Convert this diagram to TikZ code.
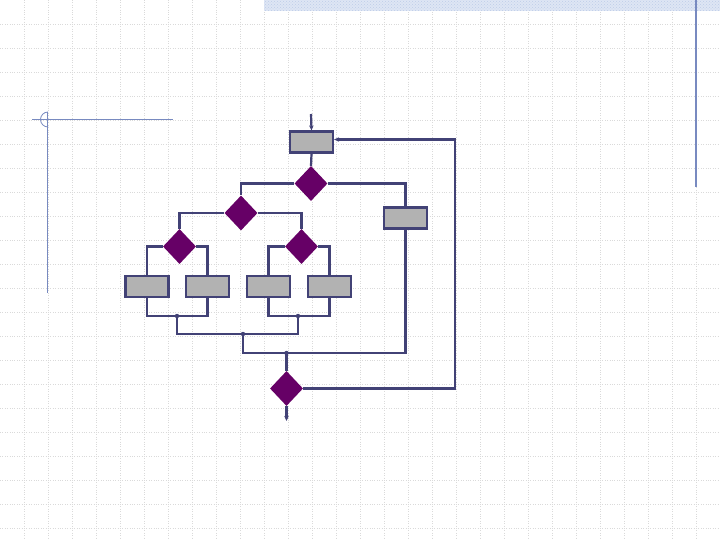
\documentclass[tikz,border=0pt]{standalone}
\usetikzlibrary{shapes.geometric}
\usetikzlibrary{arrows.meta}
\usetikzlibrary{patterns}
\definecolor{navy}{RGB}{66,66,118}
\definecolor{boxgrey}{RGB}{178,178,178}
\definecolor{purp}{RGB}{102,0,102}
\definecolor{gridgrey}{RGB}{218,218,218}
\definecolor{guide}{RGB}{120,138,192}
\definecolor{band}{RGB}{222,230,244}
\definecolor{bandhatch}{RGB}{190,204,232}
\tikzset{
	blk/.style={rectangle, minimum width=43pt, minimum height=21pt, inner sep=0pt, draw=navy, fill=boxgrey, line width=2.2pt},
	dec/.style={diamond, minimum width=33pt, minimum height=35pt, inner sep=0pt, fill=purp},
	con/.style={draw=navy, line width=2.2pt},
	arrow/.style={con,-{Stealth[length=5pt,width=4.5pt]}},
	jdot/.style={fill=navy},
	gridline/.style={draw=gridgrey, line width=0.8pt, dash pattern=on 1pt off 1.4pt},
}

\begin{document}
\begin{tikzpicture}[x=1pt,y=-1pt]
\useasboundingbox (0,0) rectangle (720,540);
\fill[white] (0,0) rectangle (720,540);

% background grid
\foreach \gx in {24,48,...,696} \draw[gridline] (\gx,0) -- (\gx,540);
\foreach \gy in {24,48,...,528} \draw[gridline] (0,\gy) -- (720,\gy);

% slide decoration
\fill[band] (264,0) rectangle (720,11);
\fill[pattern=crosshatch dots, pattern color=bandhatch] (264,0) rectangle (720,11);
\draw[guide, line width=1.5pt] (696,0) -- (696,187);
\draw[guide, line width=1pt] (32,119.5) -- (173,119.5);
\draw[guide, line width=1pt] (47.5,112) -- (47.5,293);
\draw[guide, line width=0.8pt] (48,112) arc[start angle=-90, end angle=-270, radius=7.5];

% boxes
\node [blk] (r0) at (311.5,142) {};
\node [blk] (rR) at (405.5,218) {};
\node [blk] (rA) at (147,286.5) {};
\node [blk] (rB) at (207.5,286.5) {};
\node [blk] (rC) at (268.5,286.5) {};
\node [blk] (rD) at (329.5,286.5) {};

% decisions
\node [dec] (d1) at (311,183.5) {};
\node [dec] (d2) at (241,213) {};
\node [dec] (d3) at (179.5,246.5) {};
\node [dec] (d4) at (301.5,246.5) {};
\node [dec] (d5) at (286.5,388.5) {};

\coordinate (in) at (311,114);
\coordinate (out) at (286.5,421);
\coordinate (j1) at (177,316);
\coordinate (j2) at (298,316);
\coordinate (j3) at (243,334);
\coordinate (j4) at (286.5,353);
\coordinate (lp) at (455,139.5);

\draw[arrow] (in) -- (r0.north);
\draw[con] (r0.south) -- (d1.north);

\draw[con] (d1.west) -| (d2.north); % left
\draw[con] (d1.east) -| (rR.north); % right
\draw[con] (d2.west) -| (d3.north);
\draw[con] (d2.east) -| (d4.north);
\draw[con] (d3.west) -| (rA.north);
\draw[con] (d3.east) -| (rB.north);
\draw[con] (d4.west) -| (rC.north);
\draw[con] (d4.east) -| (rD.north);

% merge
\draw[con] (rA.south) |- (j1) -| (rB.south);
\draw[con] (rC.south) |- (j2) -| (rD.south);
\draw[con] (j1) |- (j3) -| (j2);
\draw[con] (j3) |- (j4) -| (rR.south);
\draw[con] (j4) -- (d5.north);

\fill[jdot] (j1) circle (2.2pt);
\fill[jdot] (j2) circle (2.2pt);
\fill[jdot] (j3) circle (2.2pt);
\fill[jdot] (j4) circle (2.2pt);

% loop back
\draw[arrow] (d5.east) -| (lp) -- (lp -| r0.east);
\draw[arrow] (d5.south) -- (out);
\end{tikzpicture}
\end{document}
